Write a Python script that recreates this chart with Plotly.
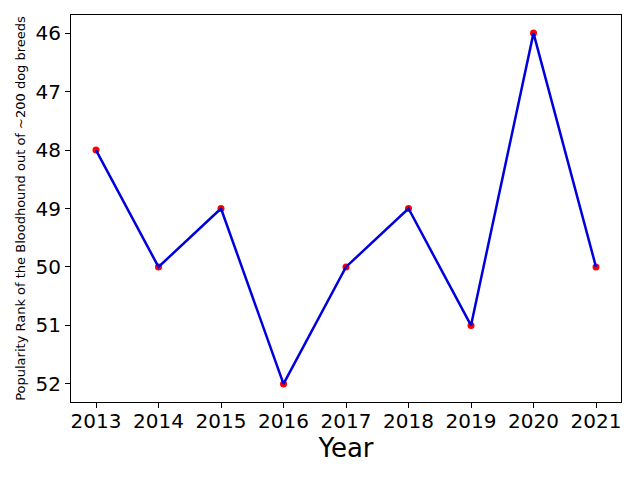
import plotly.graph_objects as go

years = [2013, 2014, 2015, 2016, 2017, 2018, 2019, 2020, 2021]
ranks = [48, 50, 49, 52, 50, 49, 51, 46, 50]
y_ticks = [46, 47, 48, 49, 50, 51, 52]

fig = go.Figure()
fig.add_trace(go.Scatter(x=years, y=ranks, mode="markers",
                         marker=dict(color="red", size=7, line=dict(width=0)),
                         showlegend=False))
fig.add_trace(go.Scatter(x=years, y=ranks, mode="lines",
                         line=dict(color="#0000dd", width=2.5),
                         showlegend=False))

axis_common = dict(showline=True, linecolor="black", linewidth=1, mirror=True,
                   ticks="outside", ticklen=5, tickwidth=1, tickcolor="black",
                   showgrid=False, zeroline=False, automargin=False,
                   tickfont=dict(family="DejaVu Sans", size=20, color="black"))

fig.update_layout(
    width=640, height=480,
    margin=dict(l=63, r=27, t=7, b=86),
    plot_bgcolor="white", paper_bgcolor="white",
    xaxis=dict(range=[2012.6, 2021.4], tickmode="array", tickvals=years,
               ticklabelstandoff=-4,
               title=dict(text="Year", font=dict(family="DejaVu Sans", size=26, color="black"), standoff=4),
               **axis_common),
    yaxis=dict(range=[52.31, 45.69], tickmode="array", tickvals=y_ticks,
               title=dict(text="Popularity Rank of the Bloodhound out of ~200 dog breeds",
                          font=dict(family="DejaVu Sans", size=13, color="black"), standoff=6),
               **axis_common),
)

fig.write_html("out.html")
